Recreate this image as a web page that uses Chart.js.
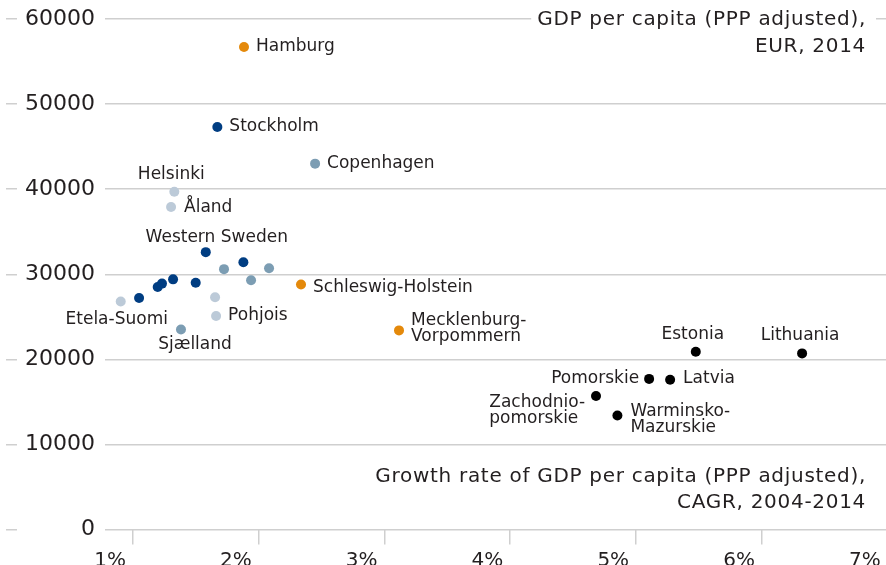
<!DOCTYPE html>
<html>
<head>
<meta charset="utf-8">
<script src="https://cdn.jsdelivr.net/npm/chart.js@4/dist/chart.umd.min.js"></script>
<style>
html, body { margin: 0; padding: 0; background: #fff; overflow: hidden; }
canvas { display: block; }
</style>
</head>
<body>
<canvas id="gdpChart" width="886" height="565"></canvas>
<script>
// regions, their country group, growth (CAGR %, 2004-2014) and GDP per capita (EUR, 2014)
const regions = ["Hamburg", "Stockholm", "Copenhagen", "Helsinki", "Åland", "Western Sweden",
    "", "", "", "", "", "", "", "", "",
    "Etela-Suomi", "", "Pohjois", "Sjælland", "Schleswig-Holstein", "Mecklenburg-Vorpommern",
    "Estonia", "Lithuania", "Pomorskie", "Latvia", "Zachodniopomorskie", "Warminsko-Mazurskie"];
const groups = ["Germany", "Sweden", "Denmark", "Finland", "Finland", "Sweden",
    "Sweden", "Denmark", "Denmark", "Denmark", "Sweden", "Sweden", "Sweden", "Sweden", "Sweden",
    "Finland", "Finland", "Finland", "Denmark", "Germany", "Germany",
    "Baltic", "Baltic", "Poland", "Baltic", "Poland", "Poland"];
const growth = [2.065, 1.853, 2.630, 1.511, 1.485, 1.761,
    2.060, 1.906, 2.264, 2.121, 1.501, 1.681, 1.413, 1.379, 1.231,
    1.085, 1.835, 1.843, 1.564, 2.518, 3.297,
    5.656, 6.501, 5.285, 5.452, 4.863, 5.033];
const gdpPerCapita = [56700, 47300, 43000, 39700, 37900, 32600,
    31400, 30600, 30700, 29300, 29400, 29000, 28900, 28500, 27200,
    26800, 27300, 25100, 23500, 28800, 23400,
    20900, 20700, 17700, 17600, 15700, 13400];
const xTicks = [1, 2, 3, 4, 5, 6, 7];
const yTicks = [0, 10000, 20000, 30000, 40000, 50000, 60000];
const yTitle = ["GDP per capita (PPP adjusted),", "EUR, 2014"];
const xTitle = ["Growth rate of GDP per capita (PPP adjusted),", "CAGR, 2004-2014"];

const groupColors = {
    Sweden: "#003d82",
    Denmark: "#7c9db3",
    Finland: "#bccad8",
    Germany: "#e4890b",
    Baltic: "#000000",
    Poland: "#000000"
};
const textColor = "#231f20";
const gridColor = "#cfcfcf";
const fontFamily = '"DejaVu Sans", sans-serif';

// where each label sits relative to its dot
const labelStyle = {
    "Hamburg": { dx: 12, dy: 0, align: "left" },
    "Stockholm": { dx: 12, dy: 0, align: "left" },
    "Copenhagen": { dx: 12, dy: 0, align: "left" },
    "Helsinki": { dx: -3, dy: -17, align: "center" },
    "Åland": { dx: 13, dy: 1, align: "left" },
    "Western Sweden": { dx: 11, dy: -15, align: "center" },
    "Etela-Suomi": { dx: -4, dy: 18, align: "center" },
    "Sjælland": { dx: 14, dy: 15, align: "center" },
    "Pohjois": { dx: 12, dy: 0, align: "left" },
    "Schleswig-Holstein": { dx: 12, dy: 3, align: "left" },
    "Mecklenburg-Vorpommern": { dx: 12, dy: -10, align: "left", lines: ["Mecklenburg-", "Vorpommern"] },
    "Estonia": { dx: -3, dy: -17, align: "center" },
    "Lithuania": { dx: -2, dy: -18, align: "center" },
    "Pomorskie": { dx: -10, dy: 0, align: "right" },
    "Latvia": { dx: 13, dy: -1, align: "left" },
    "Zachodniopomorskie": { dx: -11, dy: 7, align: "right", lines: ["Zachodnio-", "pomorskie"] },
    "Warminsko-Mazurskie": { dx: 13, dy: -4, align: "left", lines: ["Warminsko-", "Mazurskie"] }
};

const xMin = 0.96, xMax = 7.168;
const tickShift = 0.18; // x tick marks sit a little right of their labels

const points = growth.map((g, i) => ({ x: g, y: gdpPerCapita[i] }));
const pointColors = groups.map(g => groupColors[g]);

// stop tick labels from pushing the plot area around
const noSidePadding = s => { s.paddingLeft = 0; s.paddingRight = 0; };
const noEndPadding = s => { s.paddingTop = 0; s.paddingBottom = 0; };

const labelPlugin = {
    id: "regionLabels",
    afterDatasetsDraw(chart) {
        const ctx = chart.ctx;
        const meta = chart.getDatasetMeta(0);
        ctx.save();
        ctx.font = "17px " + fontFamily;
        ctx.fillStyle = textColor;
        ctx.textBaseline = "middle";
        ctx.textAlign = "left";
        meta.data.forEach((pt, i) => {
            const st = labelStyle[regions[i]];
            if (!st) return;
            const lines = st.lines || [regions[i]];
            const w = Math.max(...lines.map(l => ctx.measureText(l).width));
            let x0;
            if (st.align === "left") x0 = pt.x + st.dx;
            else if (st.align === "right") x0 = pt.x + st.dx - w;
            else x0 = pt.x + st.dx - w / 2;
            lines.forEach((l, k) => ctx.fillText(l, x0, pt.y + st.dy + k * 16));
        });
        ctx.restore();
    },
    afterDraw(chart) {
        const ctx = chart.ctx;
        const right = 866;
        ctx.save();
        ctx.font = "20px " + fontFamily;
        ctx.letterSpacing = "0.7px";
        ctx.textBaseline = "middle";
        ctx.textAlign = "right";
        // white box behind the top title so the 60000 gridline stops at it
        const w = ctx.measureText(yTitle[0]).width;
        ctx.fillStyle = "#fff";
        ctx.fillRect(right - w - 6, 14, w + 16, 12);
        ctx.fillStyle = textColor;
        yTitle.forEach((l, k) => ctx.fillText(l, right, 20 + k * 27));
        xTitle.forEach((l, k) => ctx.fillText(l, right, 477 + k * 26));
        ctx.restore();
    }
};

new Chart(document.getElementById("gdpChart"), {
    type: "scatter",
    data: {
        datasets: [{
            label: "Regions",
            data: points,
            backgroundColor: pointColors,
            borderWidth: 0,
            pointRadius: 5,
            pointHoverRadius: 5
        }]
    },
    options: {
        responsive: false,
        animation: false,
        layout: { autoPadding: false, padding: { left: 6, top: 19, right: 0, bottom: 0 } },
        plugins: {
            legend: { display: false },
            tooltip: { enabled: false }
        },
        scales: {
            x: {
                type: "linear",
                position: "bottom",
                weight: 1,
                min: xMin,
                max: xMax,
                afterBuildTicks: s => { s.ticks = xTicks.map(v => ({ value: v })); },
                afterFit: s => { s.height = 20.5; noSidePadding(s); },
                grid: { display: false },
                border: { display: false },
                ticks: {
                    padding: -4,
                    autoSkip: false,
                    maxRotation: 0,
                    color: textColor,
                    font: { family: fontFamily, size: 20 },
                    callback: v => v + "%"
                }
            },
            xt: {
                type: "linear",
                position: "bottom",
                weight: 0,
                min: xMin - tickShift,
                max: xMax - tickShift,
                afterBuildTicks: s => {
                    s.ticks = xTicks.filter(v => v >= s.min && v <= s.max).map(v => ({ value: v }));
                },
                afterFit: noSidePadding,
                grid: { drawOnChartArea: false, drawTicks: true, tickLength: 15, color: gridColor, lineWidth: 1.5 },
                border: { display: false },
                ticks: { display: false }
            },
            y: {
                type: "linear",
                position: "left",
                weight: 0,
                min: 0,
                max: 60000,
                afterBuildTicks: s => { s.ticks = yTicks.map(v => ({ value: v })); },
                afterFit: s => { s.width = 88; noEndPadding(s); },
                grid: { color: gridColor, lineWidth: 1.5, drawTicks: false },
                border: { display: false },
                ticks: {
                    padding: 10,
                    color: textColor,
                    font: { family: fontFamily, size: 22 },
                    callback: v => String(v)
                }
            },
            yd: {
                type: "linear",
                position: "left",
                weight: 1,
                min: 0,
                max: 60000,
                afterBuildTicks: s => { s.ticks = yTicks.map(v => ({ value: v })); },
                afterFit: noEndPadding,
                grid: { drawOnChartArea: false, drawTicks: true, tickLength: 11, color: gridColor, lineWidth: 1.5 },
                border: { display: false },
                ticks: { display: false }
            }
        }
    },
    plugins: [labelPlugin]
});
</script>
</body>
</html>
